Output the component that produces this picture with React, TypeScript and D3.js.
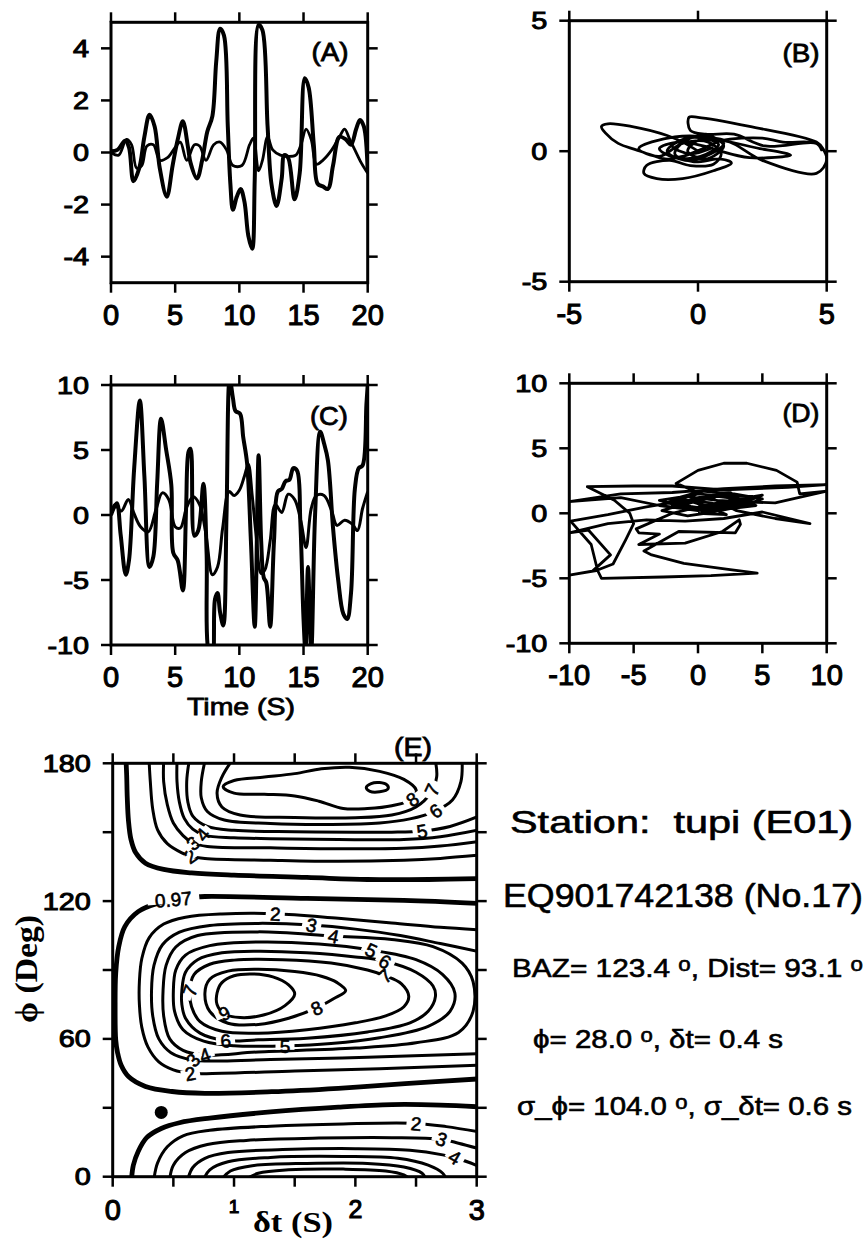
import React from 'react';
import * as d3 from 'd3';

type P = [number, number];

// ---- panel A / C : seismograms (time s, amplitude) ----
const timeTicks = [0, 5, 10, 15, 20];
const ampTicksA = [-4, -2, 0, 2, 4];
const ampTicksC = [-10, -5, 0, 5, 10];

const radialA: P[] = [
  [0, 0.05], [0.5, 0.1], [1.1, 0.45], [1.4, 0.2], [1.75, -1.1], [2.2, -0.6], [2.6, 0.6], [3.0, 1.45],
  [3.4, 1.0], [3.8, -0.6], [4.35, -1.7], [4.8, -0.5], [5.2, 0.5], [5.6, 1.2], [6.0, 0.2], [6.2, -0.4],
  [6.7, -1.0], [7.1, -0.3], [7.5, 0.8], [7.9, 1.4], [8.2, 3.5], [8.5, 4.75], [8.8, 4.5], [9.1, 1.0],
  [9.3, -1.2], [9.5, -2.2], [9.8, -1.7], [10.1, -1.4], [10.4, -1.9], [10.7, -3.2], [11.0, -3.7],
  [11.2, -1.0], [11.5, 4.9], [11.8, 4.7], [12.2, 1.0], [12.5, -1.2], [12.9, -2.05], [13.3, -1.0],
  [13.5, -0.1], [13.8, -0.2], [14.3, -1.8], [14.7, -0.8], [15.1, 2.85], [15.4, 2.5], [15.8, 0.3],
  [16.1, -1.2], [16.5, -1.3], [16.9, -1.4], [17.3, -0.5], [17.8, 0.6], [18.3, 0.5], [18.7, 0.3],
  [19.1, 0.9], [19.4, 1.25], [19.7, 1.0], [20, -0.75],
];
const transA: P[] = [
  [0, 0], [0.6, -0.1], [1.2, 0.5], [1.6, 0.3], [2.0, -0.6], [2.4, -0.5], [2.8, 0.25], [3.3, 0.3],
  [3.8, -0.3], [4.4, -0.2], [5.0, 0.2], [5.4, 0.4], [5.9, -0.3], [6.5, 0.3], [6.9, 0.25], [7.4, -0.3],
  [8.0, 0.3], [8.5, 0.4], [9.0, 0.1], [9.5, -0.5], [10.2, -0.5], [10.8, 0.3], [11.1, 0.55],
  [11.5, -0.7], [11.8, -0.3], [12.2, 0.6], [12.6, 0.1], [13.2, -0.1], [13.8, -0.15], [14.4, -0.1],
  [14.8, 0.3], [15.2, 0.9], [15.6, 0.5], [16.0, -0.45], [16.5, -0.3], [17.2, 0.1], [17.8, 0.6],
  [18.2, 0.9], [18.6, 0.5], [19.0, 0.1], [19.5, -0.4], [20, -0.8],
];
const radialC: P[] = [
  [0, 0], [0.45, 0.9], [0.75, -1.5], [1.15, -4.6], [1.4, -3.5], [1.8, 3.5], [2.25, 8.8], [2.6, 3],
  [3.0, -4.0], [3.3, -3.2], [3.6, 2.5], [3.9, 7.4], [4.3, 5], [4.7, 2.3], [4.85, -2.9], [5.2, -3.5],
  [5.6, -5.8], [5.85, 0.5], [6.05, 4.9], [6.2, 5.1], [6.5, -1.6], [6.8, -1.2], [7.2, 2.4], [7.45, -3],
  [7.6, -10.5], [7.9, -11], [8.1, -6.5], [8.3, -6], [8.5, -7.5], [8.75, -8.5], [9.0, 0], [9.25, 10.5],
  [9.5, 9], [9.7, 8], [10.05, 7.8], [10.3, 6], [10.6, 4], [10.9, -2], [11.2, -8.6], [11.5, 4.6],
  [11.7, -2], [11.9, -4.8], [12.1, -5.2], [12.4, -8.6], [12.7, -2], [13.0, 1.8], [13.3, 2.0],
  [13.6, 2.6], [13.9, 2.7], [14.2, 3.6], [14.5, 3.4], [14.75, -0.5], [15.0, -8], [15.15, -10.5],
  [15.35, -4], [15.6, -10.5], [15.9, 0], [16.3, 6.4], [16.6, 5.5], [16.9, 4.2], [17.3, -1],
  [17.7, -5], [18.1, -7.6], [18.4, -8], [18.7, -6], [19.0, 2], [19.3, 3.6], [19.6, 3.8], [19.9, 8.5],
  [20, 10],
];
const transC: P[] = [
  [0, 0], [0.3, 0.8], [0.8, 0.3], [1.35, 1.2], [1.8, 0.1], [2.3, -0.9], [2.9, -1.3], [3.5, 0.4],
  [4.0, 1.7], [4.5, 1.2], [5.0, -0.9], [5.4, -1.0], [5.9, 0.6], [6.4, 1.4], [6.9, 0.8], [7.4, -1.5],
  [7.9, -4.6], [8.3, -4.0], [8.7, -1], [9.2, 1.8], [9.6, 1.5], [10.0, 1.9], [10.4, 3.0], [10.7, 3.9],
  [11.0, 1.5], [11.3, -1.5], [11.7, -4.5], [12.0, -4.2], [12.4, -2], [12.8, 0.8], [13.3, 0.2],
  [13.8, 1.6], [14.3, 1.2], [14.8, -0.5], [15.2, -2.5], [15.6, 0.5], [16.0, 1.5], [16.6, 1.5],
  [17.2, 0.3], [17.6, -0.8], [18.2, -0.4], [18.8, -0.7], [19.2, -1.2], [19.6, 0.5], [20, 1.8],
];

// ---- panel B / D : particle motion ----
const pmTicksB = [-5, 0, 5];
const pmTicksD = [-10, -5, 0, 5, 10];
const motionB: P[] = [
  [0, 0], [-0.5, 0.3], [-1.2, 0.6], [-2.6, 0.95], [-3.5, 1.05], [-3.75, 0.95], [-3.6, 0.7], [-3.1, 0.3],
  [-2.4, 0.05], [-1.8, -0.15], [-1.2, -0.3], [-0.6, -0.2], [0.2, 0.1], [0.9, 0.4], [2.5, 0.5],
  [3.3, 0.35], [4.6, 0.3], [4.8, 0.05], [4.6, 0.3], [2.6, 0.2], [1.4, 0.65], [0.3, 0.65], [-0.3, 0.8],
  [-0.35, 1.3], [0, 1.3], [2.0, 0.95], [4.6, 0.35], [4.85, 0.1], [5, -0.35], [4.6, -0.85], [2.5, -0.35],
  [1.1, 0.4], [-0.9, 0.55], [-2.3, 0.1], [-1.5, -0.2], [-0.6, 0.3], [0.4, 0.35], [0.9, -0.1],
  [0.6, -0.5], [-0.3, -0.55], [-1.1, -0.35], [-2.0, -0.55], [-2.1, -0.85], [-1.6, -1.05],
  [-0.6, -1.05], [0.6, -0.75], [1.3, -0.45], [0.9, -0.3], [-0.2, -0.4], [-0.9, -0.1], [-0.5, 0.4],
  [0.4, 0.6], [1.0, 0.2], [0.3, -0.3], [-0.4, 0.0], [0.1, 0.45], [2.4, 0.1], [3.6, -0.15],
  [2.0, -0.25], [0.7, 0.05], [0.2, 0.2], [-0.8, 0.35], [-1.5, 0.1], [-0.9, -0.25], [0.1, -0.2],
  [0.8, 0.25], [0.2, 0.5], [-0.6, 0.45], [-1.2, 0.0], [-0.5, -0.35], [0.5, -0.1], [1.0, 0.3],
  [0.0, 0.55], [-1.0, 0.2], [-0.3, -0.1], [0.6, 0.15],
];
const motionD: P[] = [
  [0, 0.5], [2.5, 1.0], [5.0, 1.4], [3.0, 0.6], [0.0, 0.2], [-3.0, 0.6], [-6.0, 1.2], [-10, 0.9],
  [-6, 1.5], [-2, 1.6], [2, 1.9], [6, 2.1], [10, 2.2], [7, 2.0], [2, 1.8], [-2, 2.1], [-5, 2.1],
  [-8.6, 2.05], [-6.5, 1.0], [-5.3, 0.0], [-5.0, -0.8], [-5.6, -2.0], [-6.6, -3.9], [-7.9, -4.4],
  [-10, -4.75], [-8.2, -4.45], [-6.8, -3.2], [-8.5, -1.3], [-10, -1.5], [-7, -0.8], [-4, -0.5],
  [-1, -0.6], [2, -0.4], [5, 0.1], [8.7, -0.8], [6, -0.4], [3, 0.2], [1, 1.2], [-1.7, 2.3], [0, 3.3],
  [2, 3.85], [3.8, 3.85], [6.1, 3.3], [7.7, 2.4], [7.9, 1.5], [10, 1.7], [6, 0.8], [3, 0.9],
  [0.5, 0.6], [-2, 0.0], [-4.8, -1.2], [-4.6, -1.5], [-3.0, -1.6], [-4.6, -2.4], [-1, -2.3],
  [1.9, -1.4], [3.2, -0.5], [3.3, -0.85], [2.9, -1.5], [-1.5, -1.4], [-4.2, -2.9], [-3.6, -3.2],
  [-1.1, -3.85], [2.2, -4.3], [4.6, -4.6], [1, -4.8], [-2.7, -4.9], [-7.5, -5.0], [-7.8, -4.4],
  [-8.3, -2.4], [-9.9, -0.6], [-7, -0.1], [-4, 0.5], [-1, 1.0], [1, 0.8], [2.5, 0.4], [0.5, 0.1],
  [-1, 0.7], [1.5, 1.3], [4, 1.0], [1, 0.3], [-2.5, 0.8], [0, 1.5], [3, 1.2], [4.5, 0.6], [2, 0.3],
  [-1, 0.5], [-3, 1.0], [-1, 1.3], [1.5, 1.0], [3.5, 0.9], [2.5, 1.6], [0, 1.2], [-2, 0.6],
  [0, 0.4], [2.5, 0.7], [4.2, 1.3], [1.8, 1.4], [-0.5, 0.9], [-2.8, 0.2], [-0.8, -0.2], [1.2, 0.1],
  [3.2, 0.5], [5, 1.1], [2.8, 1.5], [0.3, 1.7], [-1.5, 1.2], [0.8, 0.5], [2.2, -0.1], [0, 0],
];

// ---- panel E : energy contours (dt s, phi deg) ----
const dtTicks = [0, 0.5, 1, 1.5, 2, 2.5, 3];
const dtLabels = [0, 1, 2, 3];
const phiTicks = [0, 30, 60, 90, 120, 150, 180];
const phiLabels = [0, 60, 120, 180];

// 0.97 (confidence) contours, drawn thick
const thickTop: P[] = [[0.11, 181], [0.115, 175], [0.12, 165], [0.13, 155], [0.15, 147], [0.19, 141], [0.27, 136.5], [0.42, 133.8], [0.65, 132.3], [1.0, 131.3], [1.6, 130.3], [2.1, 129.4], [2.6, 129.4], [3.02, 129.8]];
const thickMid: P[] = [[3.02, 119], [2.4, 120.3], [1.6, 121.2], [0.76, 122], [0.62, 121.5], [0.375, 119.1], [0.21, 115.4], [0.1, 108.9], [0.05, 100.2], [0.025, 88.6], [0.02, 74], [0.025, 59.5], [0.04, 54], [0.07, 48.5], [0.13, 43.6], [0.27, 39.3], [0.49, 37.1], [0.76, 36.3], [1.31, 37], [1.86, 38.5], [2.41, 40.5], [3.02, 42.6]];
const thickBot: P[] = [[0.155, -1], [0.17, 5], [0.21, 11], [0.28, 17], [0.4, 21], [0.55, 23.5], [0.8, 25.5], [1.3, 28.2], [1.86, 30.3], [2.3, 31.4], [2.7, 31.2], [3.02, 30.4]];

const c2top: P[] = [[0.3, 181], [0.31, 172], [0.33, 160], [0.37, 151], [0.45, 145], [0.57, 141], [0.64, 139.6], [0.76, 138.6], [1.3, 137.8], [1.86, 137.3], [2.4, 137.8], [2.7, 138.6], [3.02, 140]];
const c3top: P[] = [[0.42, 181], [0.42, 172], [0.45, 162], [0.5, 154], [0.58, 148.5], [0.66, 145.3], [0.78, 143.8], [1.3, 143.2], [1.86, 142.8], [2.4, 143], [2.7, 144], [3.02, 146]];
const c4top: P[] = [[0.53, 181], [0.53, 172], [0.55, 163], [0.59, 156], [0.66, 151.3], [0.76, 148.6], [1.0, 147.6], [1.3, 147.2], [1.86, 146.8], [2.4, 146.8], [2.7, 148], [3.02, 151]];
const c5top: P[] = [[0.63, 181], [0.61, 172], [0.62, 163], [0.66, 157], [0.78, 152.5], [1.0, 150.8], [1.5, 150.2], [2.0, 150], [2.3, 150], [2.55, 150.5], [2.78, 152.5], [3.02, 157]];
const c6top: P[] = [[0.76, 181], [0.73, 172], [0.73, 165], [0.78, 159], [0.92, 155.3], [1.3, 153.8], [1.8, 153.4], [2.2, 154], [2.45, 155.8], [2.65, 159], [2.8, 164], [2.87, 172], [2.88, 181]];
const c7top: P[] = [[0.98, 181], [0.9, 174], [0.86, 167], [0.9, 161], [1.05, 157.5], [1.5, 156.4], [2.0, 156.3], [2.3, 157.5], [2.5, 161], [2.62, 167], [2.67, 174], [2.66, 181]];
const c8top: P[] = [[0.91, 169.8], [1.0, 172.5], [1.25, 174], [1.5, 175.5], [1.72, 177.6], [1.95, 178.3], [2.2, 176.5], [2.4, 173], [2.5, 168.5], [2.48, 164.8], [2.3, 161.5], [2.1, 160.3], [1.9, 160.3], [1.7, 163.5], [1.5, 165.8], [1.25, 166.5], [1.0, 167]];
const c9top: P[] = [[2.09, 169.5], [2.13, 171.2], [2.2, 171.6], [2.26, 170.6], [2.27, 169], [2.2, 167.6], [2.12, 167.8]];

const c2mid: P[] = [[3.02, 107.5], [2.7, 108.6], [2.3, 110.5], [1.86, 112.5], [1.34, 114.5], [0.9, 114.4], [0.6, 113], [0.42, 110], [0.3, 104], [0.24, 95], [0.22, 85], [0.22, 75], [0.24, 65], [0.29, 56.5], [0.38, 50], [0.5, 46.5], [0.64, 45], [0.9, 45], [1.5, 46], [2.2, 47], [3.02, 48.6]];
const c3mid: P[] = [[3.02, 98], [2.7, 101.5], [2.37, 105], [2.0, 107.8], [1.64, 109.6], [1.2, 110.3], [0.8, 109.4], [0.55, 106.5], [0.41, 101], [0.34, 92], [0.32, 81], [0.33, 70], [0.38, 60], [0.48, 54], [0.66, 50.8], [0.9, 50.4], [1.3, 51], [2.1, 52], [3.02, 53.6]];
const c4mid: P[] = [[1.82, 104.8], [2.3, 103.3], [2.64, 100.2], [2.88, 93], [2.97, 85], [2.97, 72], [2.85, 62.8], [2.5, 58.3], [2.0, 56], [1.2, 54.3], [0.76, 53], [0.58, 55], [0.47, 60], [0.42, 70], [0.415, 81], [0.44, 92], [0.52, 100], [0.7, 105], [1.2, 106.6]];
const c5mid: P[] = [[0.5, 81], [0.52, 90], [0.6, 96.5], [0.8, 100.6], [1.2, 102.2], [1.7, 101.3], [2.13, 98.7], [2.5, 94.5], [2.72, 88], [2.82, 80], [2.78, 72], [2.6, 65.5], [2.2, 60.5], [1.8, 58], [1.42, 57], [1.0, 57], [0.75, 59], [0.58, 64], [0.51, 72]];
const c6mid: P[] = [[0.57, 81], [0.6, 89], [0.7, 94.5], [0.9, 97.5], [1.2, 98.2], [1.6, 97.5], [2.0, 95.7], [2.245, 93.8], [2.5, 89], [2.64, 83], [2.66, 78.5], [2.6, 72], [2.45, 67], [2.1, 63], [1.6, 60.3], [1.2, 59.6], [0.93, 59.3], [0.72, 62.5], [0.6, 69], [0.57, 75]];
const c7mid: P[] = [[0.635, 81], [0.67, 88], [0.8, 92.5], [1.0, 94.3], [1.4, 94.5], [1.8, 93], [2.1, 90], [2.245, 87.5], [2.38, 84], [2.44, 78.5], [2.4, 74], [2.25, 70], [2.0, 67], [1.6, 64], [1.2, 62.5], [0.9, 63.3], [0.72, 67.5], [0.65, 74]];
const c8mid: P[] = [[0.76, 80], [0.8, 86], [0.95, 89.5], [1.2, 90.3], [1.5, 89.3], [1.72, 87.3], [1.85, 84.5], [1.92, 81], [1.82, 77.5], [1.68, 73.5], [1.45, 69], [1.2, 66.3], [0.95, 66.8], [0.8, 72]];
const c9mid: P[] = [[0.86, 80], [0.9, 84.5], [1.0, 87.5], [1.15, 88.3], [1.32, 87], [1.45, 83.5], [1.5, 79.5], [1.42, 74.5], [1.25, 70.5], [1.05, 69.3], [0.92, 71], [0.86, 75]];

const c2bot: P[] = [[0.34, -1], [0.37, 6], [0.45, 13], [0.58, 17.8], [0.8, 20.2], [1.3, 22], [1.9, 23], [2.5, 23.2], [2.75, 21.8], [3.02, 19.5]];
const c3bot: P[] = [[0.47, -1], [0.5, 5], [0.6, 10.5], [0.78, 14], [1.1, 15.8], [1.7, 16.8], [2.3, 17], [2.7, 16.3], [2.85, 14.6], [3.02, 12.2]];
const c4bot: P[] = [[0.62, -1], [0.66, 4], [0.76, 8], [0.95, 10.5], [1.4, 11.8], [2.0, 12.2], [2.45, 11.5], [2.72, 9.5], [2.85, 7.8], [3.02, 4.5]];
const c5bot: P[] = [[0.75, -1], [0.8, 3], [0.95, 6.5], [1.3, 8.4], [1.9, 8.8], [2.35, 8], [2.6, 5], [2.72, 1.5], [2.75, -1]];
const c6bot: P[] = [[0.9, -1], [0.97, 2.5], [1.15, 4.8], [1.6, 5.8], [2.1, 5.8], [2.4, 4.2], [2.55, 1.5], [2.58, -1]];
const c7bot: P[] = [[1.1, -1], [1.2, 1.5], [1.45, 3], [1.9, 3.3], [2.25, 2.5], [2.4, 0.8], [2.45, -1]];

const thickContours = [thickTop, thickMid, thickBot];
const openContours = [c2top, c3top, c4top, c5top, c6top, c7top, c2mid, c3mid, c2bot, c3bot, c4bot, c5bot, c6bot, c7bot];
const closedContours = [c8top, c9top, c4mid, c5mid, c6mid, c7mid, c8mid, c9mid];

// contour annotations: text, dt, phi, angle
const contourLabels: [string, number, number, number][] = [
  ['2', 0.64, 139.6, -35], ['3', 0.66, 145.3, -40], ['4', 0.74, 149.0, -50],
  ['5', 2.55, 150.5, -10], ['6', 2.66, 159.3, -35], ['7', 2.63, 168.5, -65], ['8', 2.47, 164.3, -35],
  ['0.97', 0.5, 120.8, -5],
  ['2', 1.34, 114.5, 3], ['3', 1.64, 109.6, 12], ['4', 1.82, 104.8, 12], ['5', 2.13, 98.7, 25],
  ['6', 2.245, 93.8, 30], ['7', 2.245, 87.5, -40], ['8', 1.68, 73.5, -25], ['9', 0.92, 71.2, -25],
  ['7', 0.635, 81, -70], ['6', 0.93, 59.3, -5], ['5', 1.42, 57, 0], ['4', 0.76, 53, -20],
  ['3', 0.66, 50.8, -50], ['2', 0.64, 45, -10],
  ['2', 2.5, 23.2, 5], ['3', 2.71, 16.4, 20], ['4', 2.82, 8.5, 30],
];
const bestFit: P = [0.4, 28];

// station / event summary, odd entries are degree marks
const infoStation = 'Station:  tupi (E01)';
const infoEvent = 'EQ901742138 (No.17)';
const infoBaz = ['BAZ= 123.4 ', 'o', ', Dist= 93.1 ', 'o'];
const infoSplit = ['\u03D5= 28.0 ', 'o', ', \u03B4t= 0.4 s'];
const infoError = ['\u03C3_\u03D5= 104.0 ', 'o', ', \u03C3_\u03B4t= 0.6 s'];

const SANS = "'Liberation Sans', Arial, Helvetica, sans-serif";
const SERIF = "'Liberation Serif', 'DejaVu Serif', 'Times New Roman', serif";
const TICK = 10;

type Lin = d3.ScaleLinear<number, number>;

function Frame({ x, y, xTicks, yTicks, xLabels, yLabels, xLabelSize }: {
  x: Lin; y: Lin; xTicks: number[]; yTicks: number[]; xLabels: number[]; yLabels: number[];
  xLabelSize?: (v: number) => [number, number];
}) {
  const [x0, x1] = x.range();
  const [y0, y1] = y.range();
  return (
    <g>
      <rect x={x0} y={y1} width={x1 - x0} height={y0 - y1} fill="none" stroke="#000" strokeWidth={3} />
      {xTicks.map(t => (
        <g key={'x' + t} stroke="#000" strokeWidth={2.5}>
          <line x1={x(t)} x2={x(t)} y1={y0} y2={y0 + TICK} />
          <line x1={x(t)} x2={x(t)} y1={y1} y2={y1 - TICK} />
        </g>
      ))}
      {yTicks.map(t => (
        <g key={'y' + t} stroke="#000" strokeWidth={2.5}>
          <line x1={x0 - TICK} x2={x0} y1={y(t)} y2={y(t)} />
          <line x1={x1} x2={x1 + TICK} y1={y(t)} y2={y(t)} />
        </g>
      ))}
      {xLabels.map(t => {
        const [fs, dy] = xLabelSize ? xLabelSize(t) : [29, 42];
        return (
          <text key={'xl' + t} x={x(t)} y={y0 + dy} fontSize={fs} textAnchor="middle"
            fontFamily={SANS} stroke="#000" strokeWidth={1.1}>{String(t)}</text>
        );
      })}
      {yLabels.map(t => (
        <text key={'yl' + t} transform={`translate(${x0 - 22},${y(t) + 8.5}) scale(1.2,1)`}
          fontSize={24} textAnchor="end" fontFamily={SANS} stroke="#000" strokeWidth={1}>{String(t)}</text>
      ))}
    </g>
  );
}

function Trace({ id, x, y, data, width, curve }: { id: string; x: Lin; y: Lin; data: P[]; width: number; curve: d3.CurveFactory }) {
  const line = d3.line<P>().x(d => x(d[0])).y(d => y(d[1])).curve(curve);
  return <path d={line(data) || ''} fill="none" stroke="#000" strokeWidth={width} strokeLinejoin="round" clipPath={`url(#${id})`} />;
}

function Clip({ id, x, y }: { id: string; x: Lin; y: Lin }) {
  const [x0, x1] = x.range();
  const [y0, y1] = y.range();
  return <clipPath id={id}><rect x={x0} y={y1} width={x1 - x0} height={y0 - y1} /></clipPath>;
}

function PanelTag({ x, y, text, len }: { x: number; y: number; text: string; len: number }) {
  return (
    <text x={x} y={y} fontSize={25} textAnchor="middle" fontFamily={SANS} textLength={len}
      lengthAdjust="spacingAndGlyphs" stroke="#000" strokeWidth={0.8}>{text}</text>
  );
}

function InfoLine({ x, y, size, len, parts }: { x: number; y: number; size: number; len: number; parts: string[] }) {
  return (
    <text x={x} y={y} fontSize={size} fontFamily={SANS} textLength={len} lengthAdjust="spacingAndGlyphs"
      style={{ whiteSpace: 'pre' }} stroke="#000" strokeWidth={0.6}>
      {parts.map((p, i) => i % 2
        ? <tspan key={i} fontSize={size * 0.75} dy={-6}>{p}</tspan>
        : <tspan key={i} dy={i ? 6 : 0}>{p}</tspan>)}
    </text>
  );
}

export default function App() {
  const xA = d3.scaleLinear().domain([0, 20]).range([111, 367.7]);
  const yA = d3.scaleLinear().domain([-5, 5]).range([282.7, 22.3]);
  const xB = d3.scaleLinear().domain([-5, 5]).range([569.3, 826.7]);
  const yB = d3.scaleLinear().domain([-5, 5]).range([281.7, 20.7]);
  const xC = d3.scaleLinear().domain([0, 20]).range([111, 367.7]);
  const yC = d3.scaleLinear().domain([-10, 10]).range([645, 385]);
  const xD = d3.scaleLinear().domain([-10, 10]).range([569.3, 826.7]);
  const yD = d3.scaleLinear().domain([-10, 10]).range([643.3, 383.3]);
  const xE = d3.scaleLinear().domain([0, 3]).range([112.7, 476.7]);
  const yE = d3.scaleLinear().domain([0, 180]).range([1176.7, 763.3]);

  const eOpen = d3.line<P>().x(d => xE(d[0])).y(d => yE(d[1])).curve(d3.curveCatmullRom.alpha(0.5));
  const eClosed = d3.line<P>().x(d => xE(d[0])).y(d => yE(d[1])).curve(d3.curveCatmullRomClosed.alpha(0.5));

  const smooth = d3.curveCatmullRom.alpha(0.5);

  return (
    <svg width={865} height={1240} style={{ position: 'absolute', left: 0, top: 0, background: '#fff' }}>
      <defs>
        <Clip id="clipA" x={xA} y={yA} />
        <Clip id="clipB" x={xB} y={yB} />
        <Clip id="clipC" x={xC} y={yC} />
        <Clip id="clipD" x={xD} y={yD} />
        <Clip id="clipE" x={xE} y={yE} />
      </defs>
      <rect width={865} height={1240} fill="#fff" />

      {/* A */}
      <Trace id="clipA" x={xA} y={yA} data={transA} width={2.8} curve={smooth} />
      <Trace id="clipA" x={xA} y={yA} data={radialA} width={4} curve={smooth} />
      <Frame x={xA} y={yA} xTicks={timeTicks} yTicks={ampTicksA} xLabels={timeTicks} yLabels={ampTicksA} />
      <PanelTag x={330} y={61} text="(A)" len={37} />

      {/* B */}
      <Trace id="clipB" x={xB} y={yB} data={motionB} width={2.8} curve={smooth} />
      <Frame x={xB} y={yB} xTicks={pmTicksB} yTicks={pmTicksB} xLabels={pmTicksB} yLabels={pmTicksB} />
      <PanelTag x={801} y={62} text="(B)" len={37} />

      {/* C */}
      <Trace id="clipC" x={xC} y={yC} data={transC} width={3} curve={smooth} />
      <Trace id="clipC" x={xC} y={yC} data={radialC} width={4} curve={smooth} />
      <Frame x={xC} y={yC} xTicks={timeTicks} yTicks={ampTicksC} xLabels={timeTicks} yLabels={ampTicksC} />
      <PanelTag x={329} y={425} text="(C)" len={38} />
      <text x={241} y={715} fontSize={24} textAnchor="middle" fontFamily={SANS} textLength={108}
        lengthAdjust="spacingAndGlyphs" stroke="#000" strokeWidth={0.8}>Time (S)</text>

      {/* D */}
      <Trace id="clipD" x={xD} y={yD} data={motionD} width={2.8} curve={d3.curveLinear} />
      <Frame x={xD} y={yD} xTicks={pmTicksD} yTicks={pmTicksD} xLabels={pmTicksD} yLabels={pmTicksD} />
      <PanelTag x={801} y={422} text="(D)" len={37} />

      {/* E */}
      <g clipPath="url(#clipE)" fill="none" stroke="#000" strokeLinejoin="round">
        {thickContours.map((c, i) => <path key={'t' + i} d={eOpen(c) || ''} strokeWidth={4.8} />)}
        {openContours.map((c, i) => <path key={'o' + i} d={eOpen(c) || ''} strokeWidth={3} />)}
        {closedContours.map((c, i) => <path key={'c' + i} d={eClosed(c) || ''} strokeWidth={3} />)}
      </g>
      {contourLabels.map(([t, dt, phi, rot], i) => (
        <g key={'lab' + i} transform={`translate(${xE(dt)},${yE(phi)}) rotate(${rot})`}>
          <rect x={-(t.length * 5.5 + 4)} y={-4} width={t.length * 11 + 8} height={8} fill="#fff" />
          <text y={7} fontSize={19} textAnchor="middle" fontFamily={SANS} stroke="#000" strokeWidth={0.6}>{t}</text>
        </g>
      ))}
      <circle cx={xE(bestFit[0])} cy={yE(bestFit[1])} r={6.5} fill="#000" />
      <Frame x={xE} y={yE} xTicks={dtTicks} yTicks={phiTicks} xLabels={dtLabels} yLabels={phiLabels}
        xLabelSize={v => (v === 1 ? [19, 36] : v === 2 ? [25, 41] : [29, 43])} />
      <PanelTag x={413} y={756} text="(E)" len={38} />
      <text x={293} y={1232} fontSize={30} textAnchor="middle" fontFamily={SERIF} fontWeight="bold"
        textLength={80} lengthAdjust="spacingAndGlyphs">{'\u03B4t (S)'}</text>
      <text transform="translate(37,969) rotate(-90)" fontSize={31} textAnchor="middle" fontFamily={SERIF}
        fontWeight="bold" textLength={108} lengthAdjust="spacingAndGlyphs" style={{ whiteSpace: 'pre' }}>{'\u03D5 (Deg)'}</text>

      {/* summary text */}
      <InfoLine x={510} y={833} size={32} len={343} parts={[infoStation]} />
      <InfoLine x={503} y={907} size={33} len={360} parts={[infoEvent]} />
      <InfoLine x={512} y={977} size={26} len={351} parts={infoBaz} />
      <InfoLine x={533} y={1048} size={26} len={250} parts={infoSplit} />
      <InfoLine x={517} y={1115} size={26} len={335} parts={infoError} />
    </svg>
  );
}
